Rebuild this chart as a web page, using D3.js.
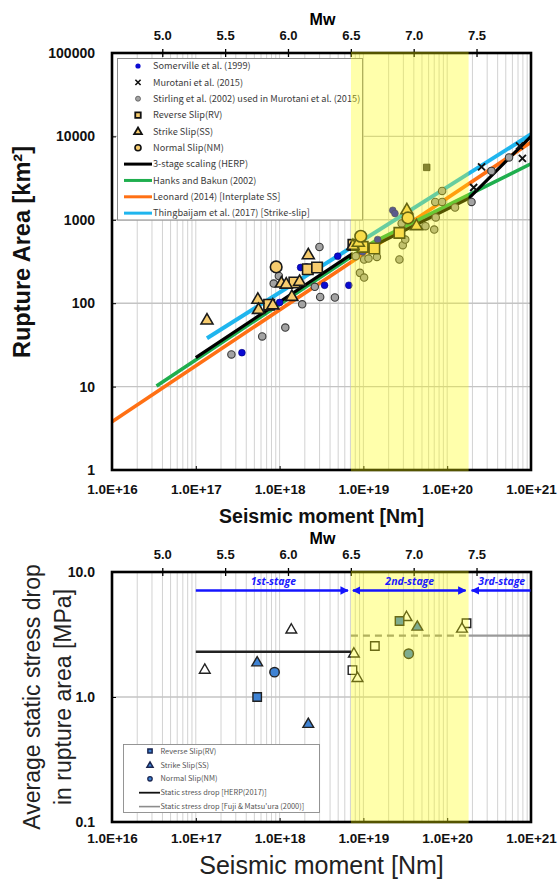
<!DOCTYPE html>
<html><head><meta charset="utf-8">
<script src="https://cdn.jsdelivr.net/npm/d3@7"></script>
<style>body{margin:0;background:#fff}svg{display:block}</style>
</head><body>
<svg id="c" width="558" height="883"></svg>
<script>
// ---------------- DATA ----------------
// Top chart: [seismic moment (Nm), rupture area (km2)]
const somerville = [[3.55e17,25.5],[1.0e18,102],[3.44e18,164],[2.09e18,272],[1.78e18,268],[4.94e18,366],[6.7e18,164],[9.8e18,412],[1.48e19,580],[2.24e19,1300],[2.38e19,1190]];
const murotani = [[2.57e20,4320],[2.07e20,2440],[7.3e20,7700],[7.9e20,5450]];
const stirling = [[2.66e17,24.3],[6.2e17,40],[1.17e18,51],[9.8e17,212],[8.5e17,172],[2.99e18,473],[2.63e18,157],[3.05e18,119],[1.86e18,97],[4.57e18,117],[8.1e18,366],[1.02e19,334],[1.15e19,343],[1.45e19,359],[9.1e18,231],[1.02e19,203],[2.69e19,334],[2.95e19,496],[3.16e19,580],[2.86e19,904],[5.5e19,838],[7.0e19,764],[7.2e19,1640],[8.7e19,1640],[8.7e19,2220],[1.24e20,1405],[7.3e19,1067],[1.95e20,1640],[3.37e20,3860],[5.47e20,5600]];
const reverseRV = [[2.17e18,255],[2.8e18,268],[1.5e18,177],[7.5e17,96],[9.8e18,473],[1.35e19,452],[2.69e19,697],[7.6e18,500]];
const strikeSS = [[1.36e17,62],[2.2e18,376],[1.05e18,172],[1.2e18,167],[1.73e18,180],[1.4e18,119],[5.5e17,110],[5.6e17,83],[8.3e17,94],[7.5e18,486],[8.7e18,530],[3.3e19,1300],[4.3e19,838]];
const normalNM = [[9.1e17,272],[9.3e18,635],[3.4e19,1054]];
const otherSq = [[5.7e19,4250]];
// scaling relations (break points)
const herpLine = [[1e17,22.3],[7.1e18,382],[7.1e18,357],[1.8e20,1800],[1e21,10000]];
const hanksBakun = [[3.4e16,10.2],[1.3e19,537],[1e21,4700]];
const leonard = [[1e16,3.8],[1e21,8500]];
const thingbaijam = [[1.36e17,38],[1e21,10600]];

// Bottom chart: [seismic moment (Nm), stress drop (MPa)]
const rvFilled = [[5.4e17,1.0],[2.7e19,4.06]];
const rvOpen = [[1.37e19,2.56],[7.4e18,1.64],[1.7e20,3.89]];
const ssFilled = [[5.4e17,1.88],[2.2e18,0.605],[4.4e19,3.63]];
const ssOpen = [[1.38e18,3.44],[1.28e17,1.64],[3.27e19,4.33],[7.7e18,2.21],[8.5e18,1.41],[1.5e20,3.5]];
const nmFilled = [[8.7e17,1.58],[3.47e19,2.22]];
const herpStress = [[1e17,2.3],[7.1e18,2.3]];
const fujiiDashed = [[7.1e18,3.1],[1.8e20,3.1]];
const fujiiSolid = [[1.8e20,3.1],[1e21,3.1]];
const stageRange = [7.1e18,1.8e20];
const stageNames = ["1st-stage","2nd-stage","3rd-stage"];
const stageSpans = [[1e17,7.1e18],[7.1e18,1.8e20],[1e21,1.8e20]];

// ticks
const xTickValues = [1e16,1e17,1e18,1e19,1e20,1e21];
const xTickLabels = ["1.0E+16","1.0E+17","1.0E+18","1.0E+19","1.0E+20","1.0E+21"];
const mwTicks = [5.0,5.5,6.0,6.5,7.0,7.5];
const areaTicks = [1,10,100,1000,10000,100000];
const stressTicks = [0.1,1,10];

const topLegend = ["Somerville et al. (1999)","Murotani et al. (2015)","Stirling et al. (2002) used in Murotani et al. (2015)","Reverse Slip(RV)","Strike Slip(SS)","Normal Slip(NM)","3-stage scaling (HERP)","Hanks and Bakun (2002)","Leonard (2014) [Interplate SS]","Thingbaijam et al. (2017) [Strike-slip]"];
const botLegend = ["Reverse Slip(RV)","Strike Slip(SS)","Normal Slip(NM)","Static stress drop [HERP(2017)]","Static stress drop [Fuji & Matsu'ura (2000)]"];

// ---------------- DRAW ----------------
const FONT = "'Liberation Sans', Arial, sans-serif";
const JFONT = "'Noto Sans CJK JP', 'Noto Sans', sans-serif";
const svg = d3.select("#c");
const X0=112, X1=531;
const x = d3.scaleLog().domain([1e16,1e21]).range([X0,X1]);
const mw = d3.scaleLinear().domain([(16-9.1)/1.5,(21-9.1)/1.5]).range([X0,X1]);
const yA = d3.scaleLog().domain([1,1e5]).range([470,53]);
const yS = d3.scaleLog().domain([0.1,10]).range([822,572]);

const YELLOW_FILL = "#f7cc6e";
const BLUE_FILL = "#3f83d4";

const defs = svg.append("defs");
defs.append("marker").attr("id","ah").attr("viewBox","0 0 10 10").attr("refX",9).attr("refY",5)
  .attr("markerWidth",3.2).attr("markerHeight",3.2).attr("orient","auto-start-reverse")
  .append("path").attr("d","M0,0L10,5L0,10z").attr("fill","#1414ff");

function grid(yScale, hVals){
  const [yb,yt] = yScale.range();
  const g = svg.append("g");
  const vs=[];
  for(let e=16;e<=20;e++) for(let k=1;k<=9;k++) vs.push(k*Math.pow(10,e));
  g.selectAll("line.v").data(vs).join("line")
    .attr("x1",d=>x(d)).attr("x2",d=>x(d)).attr("y1",yt).attr("y2",yb)
    .attr("stroke","#d2d2d2").attr("stroke-width",1);
  g.selectAll("line.h").data(hVals).join("line")
    .attr("x1",X0).attr("x2",X1).attr("y1",d=>yScale(d)).attr("y2",d=>yScale(d))
    .attr("stroke","#c4c4c4").attr("stroke-width",1.4);
}

function axes(yScale, yTicks, yFmt, xPad){
  const [yb,yt] = yScale.range();
  const gb = svg.append("g").attr("transform",`translate(0,${yb})`)
    .call(d3.axisBottom(x).tickValues(xTickValues).tickFormat((d,i)=>xTickLabels[i]).tickSize(-4).tickPadding(xPad));
  gb.select(".domain").remove();
  gb.selectAll("line").attr("stroke","#000");
  gb.selectAll("text").attr("font-family",FONT).attr("font-weight","bold").attr("font-size",13.5).attr("fill","#111");
  const gl = svg.append("g").attr("transform",`translate(${X0},0)`)
    .call(d3.axisLeft(yScale).tickValues(yTicks).tickFormat(yFmt).tickSize(-4).tickPadding(17));
  gl.select(".domain").remove();
  gl.selectAll("line").attr("stroke","#000");
  gl.selectAll("text").attr("font-family",FONT).attr("font-weight","bold").attr("font-size",14).attr("fill","#111");
  const gt = svg.append("g").attr("transform",`translate(0,${yt})`)
    .call(d3.axisTop(mw).tickValues(mwTicks).tickFormat(d3.format(".1f")).tickSize(4).tickPadding(9));
  gt.select(".domain").remove();
  gt.selectAll("line").attr("stroke","#000").attr("stroke-width",1.3).attr("y1",4).attr("y2",-4);
  gt.selectAll("text").attr("font-family",FONT).attr("font-weight","bold").attr("font-size",13).attr("fill","#111");
  svg.append("text").attr("x",(X0+X1)/2+1).attr("y",yt-28).attr("text-anchor","middle")
    .attr("font-family",FONT).attr("font-weight","bold").attr("font-size",16).text("Mw");
}

function frame(yScale){
  const [yb,yt] = yScale.range();
  svg.append("rect").attr("x",X0).attr("y",yt).attr("width",X1-X0).attr("height",yb-yt)
    .attr("fill","none").attr("stroke","#000").attr("stroke-width",2.6);
}
function yellow(yScale){
  const [yb,yt] = yScale.range();
  svg.append("rect").attr("x",x(stageRange[0])).attr("y",yt-1.3)
    .attr("width",x(stageRange[1])-x(stageRange[0])).attr("height",yb-yt+2.6)
    .attr("fill","#ffff00").attr("opacity",0.33);
}

function sym(type,size){ return d3.symbol().type(type).size(size)(); }

// ===== TOP CHART =====
grid(yA,[10,100,1000,10000]);

const lg = svg.append("g");
lg.append("rect").attr("x",117.5).attr("y",58.5).attr("width",245).attr("height",161.5)
  .attr("fill","#fff").attr("stroke","#8a8a8a").attr("stroke-width",1);

const lineA = d3.line().x(d=>x(d[0])).y(d=>yA(d[1]));
svg.append("path").datum(thingbaijam).attr("d",lineA).attr("fill","none").attr("stroke","#1fb5ee").attr("stroke-width",4);
svg.append("path").datum(leonard).attr("d",lineA).attr("fill","none").attr("stroke","#ff7014").attr("stroke-width",3.6);
svg.append("path").datum(hanksBakun).attr("d",lineA).attr("fill","none").attr("stroke","#1fae4e").attr("stroke-width",3.6);
svg.append("path").datum(herpLine).attr("d",lineA).attr("fill","none").attr("stroke","#000").attr("stroke-width",3.2);

svg.append("g").selectAll("circle").data(stirling).join("circle")
  .attr("cx",d=>x(d[0])).attr("cy",d=>yA(d[1])).attr("r",3.7)
  .attr("fill","#a3a3a3").attr("stroke","#3a3a3a").attr("stroke-width",1.1);
svg.append("g").selectAll("circle").data(somerville).join("circle")
  .attr("cx",d=>x(d[0])).attr("cy",d=>yA(d[1])).attr("r",3.4)
  .attr("fill","#0a0ad2").attr("stroke","#00007a").attr("stroke-width",0.6);
svg.append("g").selectAll("path").data(otherSq).join("path")
  .attr("transform",d=>`translate(${x(d[0])},${yA(d[1])})`).attr("d",sym(d3.symbolSquare,42))
  .attr("fill","#4a4a4a").attr("stroke","#222").attr("stroke-width",0.8);
svg.append("g").selectAll("path").data(murotani).join("path")
  .attr("transform",d=>`translate(${x(d[0])},${yA(d[1])})`).attr("d","M-3.5,-3.5L3.5,3.5M-3.5,3.5L3.5,-3.5")
  .attr("stroke","#111").attr("stroke-width",1.9).attr("fill","none");
svg.append("g").selectAll("path").data(reverseRV).join("path")
  .attr("transform",d=>`translate(${x(d[0])},${yA(d[1])})`).attr("d",sym(d3.symbolSquare,110))
  .attr("fill",YELLOW_FILL).attr("stroke","#1a1a1a").attr("stroke-width",1.6);
svg.append("g").selectAll("path").data(strikeSS).join("path")
  .attr("transform",d=>`translate(${x(d[0])},${yA(d[1])})`).attr("d",sym(d3.symbolTriangle,62))
  .attr("fill",YELLOW_FILL).attr("stroke","#1a1a1a").attr("stroke-width",1.6);
svg.append("g").selectAll("circle").data(normalNM).join("circle")
  .attr("cx",d=>x(d[0])).attr("cy",d=>yA(d[1])).attr("r",5.8)
  .attr("fill",YELLOW_FILL).attr("stroke","#1a1a1a").attr("stroke-width",1.6);

const lrow = i=>66+i*16.35;
const mx=138;
topLegend.forEach((t,i)=>{
  lg.append("text").attr("x",153).attr("y",lrow(i)+3.3).attr("font-family",JFONT).attr("font-size",9.2)
    .attr("fill","#3c3c3c").text(t);
});
lg.append("circle").attr("cx",mx).attr("cy",lrow(0)).attr("r",2.6).attr("fill","#0a0ad2");
lg.append("path").attr("transform",`translate(${mx},${lrow(1)})`).attr("d","M-2.6,-2.6L2.6,2.6M-2.6,2.6L2.6,-2.6").attr("stroke","#111").attr("stroke-width",1.6);
lg.append("circle").attr("cx",mx).attr("cy",lrow(2)).attr("r",2.5).attr("fill","#a3a3a3").attr("stroke","#555").attr("stroke-width",0.8);
lg.append("path").attr("transform",`translate(${mx},${lrow(3)})`).attr("d",sym(d3.symbolSquare,30)).attr("fill",YELLOW_FILL).attr("stroke","#111").attr("stroke-width",1.8);
lg.append("path").attr("transform",`translate(${mx},${lrow(4)+0.5})`).attr("d",sym(d3.symbolTriangle,26)).attr("fill",YELLOW_FILL).attr("stroke","#111").attr("stroke-width",1.8);
lg.append("circle").attr("cx",mx).attr("cy",lrow(5)).attr("r",3).attr("fill",YELLOW_FILL).attr("stroke","#111").attr("stroke-width",1.6);
[["#000",lrow(6)],["#1fae4e",lrow(7)],["#ff7014",lrow(8)],["#1fb5ee",lrow(9)]].forEach(([c,yy])=>{
  lg.append("line").attr("x1",124).attr("x2",152).attr("y1",yy).attr("y2",yy).attr("stroke",c).attr("stroke-width",3);
});

axes(yA, areaTicks, d3.format("d"), 14);
frame(yA);
yellow(yA);

svg.append("text").attr("transform","translate(30,252) rotate(-90)").attr("text-anchor","middle")
  .attr("font-family",FONT).attr("font-weight","bold").attr("font-size",23.5).attr("fill","#111").text("Rupture Area [km²]");
svg.append("text").attr("x",(X0+X1)/2).attr("y",523).attr("text-anchor","middle")
  .attr("font-family",FONT).attr("font-weight","bold").attr("font-size",19.5).attr("fill","#111").text("Seismic moment [Nm]");

// ===== BOTTOM CHART =====
grid(yS,[1]);

const lineS = d3.line().x(d=>x(d[0])).y(d=>yS(d[1]));
svg.append("path").datum(herpStress).attr("d",lineS).attr("fill","none").attr("stroke","#222").attr("stroke-width",2.4);
svg.append("path").datum(fujiiDashed).attr("d",lineS).attr("fill","none").attr("stroke","#8c8c8c").attr("stroke-width",2.2).attr("stroke-dasharray","7,5");
svg.append("path").datum(fujiiSolid).attr("d",lineS).attr("fill","none").attr("stroke","#9a9a9a").attr("stroke-width",2.2);

function pts(data, type, size, fill){
  svg.append("g").selectAll("path").data(data).join("path")
    .attr("transform",d=>`translate(${x(d[0])},${yS(d[1])})`).attr("d",sym(type,size))
    .attr("fill",fill).attr("stroke","#222").attr("stroke-width",1.4);
}
pts(rvOpen, d3.symbolSquare, 72, "#fff");
pts(ssOpen, d3.symbolTriangle, 50, "#fff");
pts(rvFilled, d3.symbolSquare, 72, BLUE_FILL);
pts(ssFilled, d3.symbolTriangle, 50, BLUE_FILL);
pts(nmFilled, d3.symbolCircle, 70, BLUE_FILL);

const bl = svg.append("g");
bl.append("rect").attr("x",123.5).attr("y",744.5).attr("width",196).attr("height",68)
  .attr("fill","#fff").attr("stroke","#8a8a8a").attr("stroke-width",0.9);
const brow = i=>751+i*13.9;
botLegend.forEach((t,i)=>{
  bl.append("text").attr("x",160.5).attr("y",brow(i)+2.6).attr("font-family",JFONT).attr("font-size",7.4)
    .attr("fill","#555").text(t);
});
bl.append("path").attr("transform",`translate(150,${brow(0)})`).attr("d",sym(d3.symbolSquare,18)).attr("fill",BLUE_FILL).attr("stroke","#1a2550").attr("stroke-width",1.5);
bl.append("path").attr("transform",`translate(150,${brow(1)+0.5})`).attr("d",sym(d3.symbolTriangle,16)).attr("fill",BLUE_FILL).attr("stroke","#1a2550").attr("stroke-width",1.5);
bl.append("circle").attr("cx",150).attr("cy",brow(2)).attr("r",2.2).attr("fill",BLUE_FILL).attr("stroke","#1a2550").attr("stroke-width",1.3);
bl.append("line").attr("x1",139).attr("x2",160).attr("y1",brow(3)).attr("y2",brow(3)).attr("stroke","#111").attr("stroke-width",1.8);
bl.append("line").attr("x1",139).attr("x2",160).attr("y1",brow(4)).attr("y2",brow(4)).attr("stroke","#8c8c8c").attr("stroke-width",1.6);

axes(yS, stressTicks, d3.format(".1f"), 11);
frame(yS);
yellow(yS);

// stage arrows (drawn above the yellow band)
const arrowY = 590.5;
stageSpans.forEach((s,i)=>{
  const a = x(s[0]) + (i===1?2:(i===2?-0.5:0));
  const b = x(s[1]) + (i===2?3:-3);
  const ln = svg.append("line").attr("x1",a).attr("x2",b).attr("y1",arrowY).attr("y2",arrowY)
    .attr("stroke","#1414ff").attr("stroke-width",2.6).attr("marker-end","url(#ah)");
  if(i===1) ln.attr("marker-start","url(#ah)");
  const cx = i===2 ? (x(s[1])+X1)/2+2 : (x(s[0])+x(s[1]))/2;
  svg.append("text").attr("x",cx).attr("y",arrowY-6).attr("text-anchor","middle")
    .attr("font-family","'Open Sans', sans-serif").attr("font-style","italic").attr("font-weight","bold")
    .attr("font-size",10.5).attr("fill","#1a1aff").text(stageNames[i]);
});

const yt2 = svg.append("text").attr("transform","translate(0,697) rotate(-90)").attr("text-anchor","middle")
  .attr("font-family",FONT).attr("font-size",23).attr("fill","#222");
yt2.append("tspan").attr("x",0).attr("y",40).text("Average static stress drop");
yt2.append("tspan").attr("x",0).attr("y",71).text("in rupture area [MPa]");
svg.append("text").attr("x",(X0+X1)/2).attr("y",874).attr("text-anchor","middle")
  .attr("font-family",FONT).attr("font-size",25).attr("fill","#222").text("Seismic moment [Nm]");
</script>
</body></html>
